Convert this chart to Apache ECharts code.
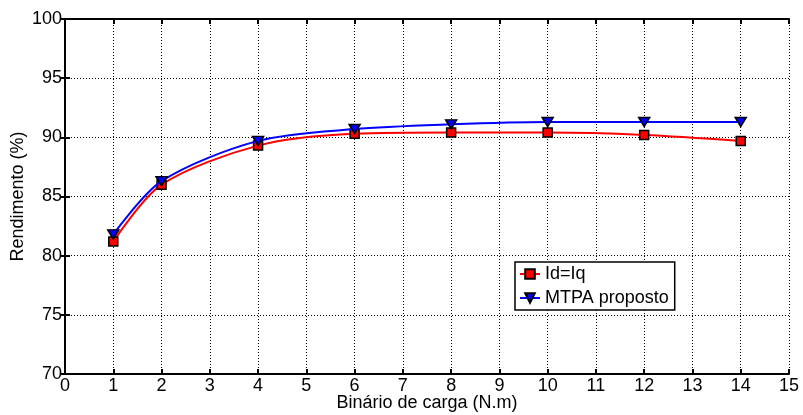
<!DOCTYPE html>
<html><head><meta charset="utf-8">
<script src="https://cdn.jsdelivr.net/npm/echarts@6/dist/echarts.min.js"></script>
<style>html,body{margin:0;padding:0;background:#fff}#c{width:803px;height:415px}</style>
</head><body><div id="c"></div>
<script>
const torque = [1, 2, 4, 6, 8, 10, 12, 14];
const idEqIq = [81.2, 86.0, 89.3, 90.3, 90.4, 90.4, 90.2, 89.7];
const mtpa = [81.8, 86.3, 89.7, 90.7, 91.1, 91.3, 91.3, 91.3];
const seriesNames = ['Id=Iq', 'MTPA proposto'];
const xTitle = 'Binário de carga (N.m)';
const yTitle = 'Rendimento (%)';

const font = 'Liberation Sans, Arial, sans-serif';
const chart = echarts.init(document.getElementById('c'));
const tri = 'path://M0,0 L10,0 L5,9 Z';
const gridLine = {show: true, lineStyle: {color: '#000', type: [1, 2], width: 1}};
chart.setOption({
  animation: false,
  grid: {left: 65, right: 14, top: 19, bottom: 41, outerBoundsMode: 'none', containLabel: false},
  legend: {
    orient: 'vertical', left: 515, top: 262,
    backgroundColor: '#fff', borderColor: '#000', borderWidth: 1.5, borderRadius: 0,
    padding: [3, 6, 3, 4], itemGap: 6, itemWidth: 20, itemHeight: 12,
    textStyle: {fontFamily: font, fontSize: 18, color: '#000'},
    data: seriesNames
  },
  xAxis: [{
    type: 'value', min: 0, max: 15, interval: 1,
    name: xTitle, nameLocation: 'middle', nameGap: 20, nameMoveOverlap: false,
    nameTextStyle: {fontFamily: font, fontSize: 18, color: '#000'},
    axisLine: {show: true, onZero: false, lineStyle: {color: '#000', width: 2}},
    axisTick: {show: true, inside: true, length: 5, lineStyle: {color: '#000', width: 2}},
    axisLabel: {fontFamily: font, fontSize: 18, color: '#000', margin: 3},
    splitLine: gridLine
  }, {
    type: 'value', position: 'top', min: 0, max: 15, interval: 1,
    axisLine: {show: true, lineStyle: {color: '#000', width: 2}},
    axisTick: {show: true, inside: true, length: 5, lineStyle: {color: '#000', width: 2}},
    axisLabel: {show: false}, splitLine: {show: false}
  }],
  yAxis: [{
    type: 'value', min: 70, max: 100, interval: 5,
    name: yTitle, nameLocation: 'middle', nameGap: 38, nameRotate: 90, nameMoveOverlap: false,
    nameTextStyle: {fontFamily: font, fontSize: 18, color: '#000'},
    axisLine: {show: true, onZero: false, lineStyle: {color: '#000', width: 2}},
    axisTick: {show: true, inside: true, length: 5, lineStyle: {color: '#000', width: 2}},
    axisLabel: {fontFamily: font, fontSize: 18, color: '#000', margin: 3},
    splitLine: gridLine
  }, {
    type: 'value', position: 'right', min: 70, max: 100, interval: 5,
    axisLine: {show: true, lineStyle: {color: '#000', width: 2}},
    axisTick: {show: true, inside: true, length: 5, lineStyle: {color: '#000', width: 2}},
    axisLabel: {show: false}, splitLine: {show: false}
  }],
  series: [{
    name: seriesNames[0], type: 'line', smooth: 0.3,
    data: torque.map((x, i) => [x, idEqIq[i]]),
    lineStyle: {color: '#ff0000', width: 2},
    symbol: 'rect', symbolSize: 9,
    itemStyle: {color: '#ff0000', borderColor: '#000', borderWidth: 1.5},
    z: 2
  }, {
    name: seriesNames[1], type: 'line', smooth: 0.3,
    data: torque.map((x, i) => [x, mtpa[i]]),
    lineStyle: {color: '#0000ff', width: 2},
    symbol: tri, symbolSize: [11, 9],
    itemStyle: {color: '#0000ff', borderColor: '#000', borderWidth: 1.5},
    z: 3
  }]
});
</script></body></html>
